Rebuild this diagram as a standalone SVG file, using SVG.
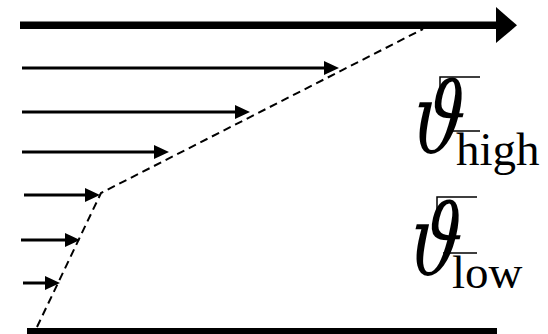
<svg xmlns="http://www.w3.org/2000/svg" width="548" height="334" viewBox="0 0 548 334">
<style>
.thin{stroke:#000;stroke-width:3;fill:none}
.dash{stroke:#000;stroke-width:2;fill:none;stroke-dasharray:8 5}
.bar{stroke:#000;stroke-width:1.5;fill:none}
.sym{font-family:"DejaVu Serif",serif;font-style:italic;font-size:98px;fill:#000}
.sub{font-family:"Liberation Serif",serif;font-size:47px;fill:#000}
</style>
<defs>
<marker id="ah" markerUnits="userSpaceOnUse" markerWidth="16" markerHeight="14" refX="0" refY="7" orient="auto">
<path d="M0,0 L15,7 L0,14 z" fill="#000"/>
</marker>
</defs>
<g id="connectors">
<line x1="20" y1="25.3" x2="497" y2="25.3" stroke="#000" stroke-width="7.5"/>
<polygon points="496,7 517,25.3 496,43" fill="#000"/>
<line x1="27" y1="331.5" x2="497" y2="331.5" stroke="#000" stroke-width="7"/>
<polyline class="dash" points="37,327 101,193 423,29"/>
<line class="thin" x1="22" y1="68" x2="324" y2="68" marker-end="url(#ah)"/>
<line class="thin" x1="22" y1="112" x2="235" y2="112" marker-end="url(#ah)"/>
<line class="thin" x1="22" y1="152" x2="154" y2="152" marker-end="url(#ah)"/>
<line class="thin" x1="24" y1="195" x2="85" y2="195" marker-end="url(#ah)"/>
<line class="thin" x1="21" y1="240" x2="65" y2="240" marker-end="url(#ah)"/>
<line class="thin" x1="23" y1="283" x2="45" y2="283" marker-end="url(#ah)"/>
</g>
<g id="label-high">
<text class="sym" transform="translate(410,153) scale(0.74,1) skewX(-8)">ϑ</text>
<text class="sub" x="456" y="165">high</text>
<path class="bar" d="M480,77 H440 V100 M450,131 H480"/>
</g>
<g id="label-low">
<text class="sym" transform="translate(407,275) scale(0.74,1) skewX(-8)">ϑ</text>
<text class="sub" x="452" y="288">low</text>
<path class="bar" d="M477,197 H437 V220 M443,253 H477"/>
</g>
</svg>
